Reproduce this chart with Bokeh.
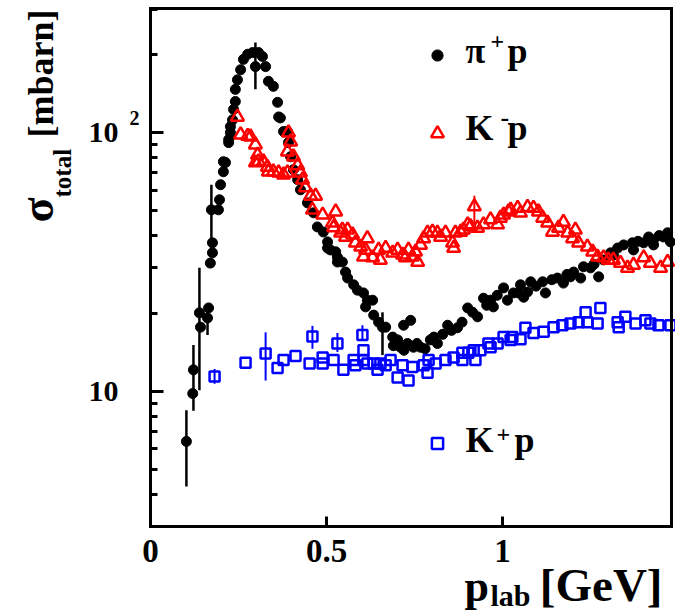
import math
from bokeh.plotting import figure
from bokeh.models import (FixedTicker, Label, Legend, LegendItem, LinearAxis,
                          LogAxis, Range1d)
from bokeh.core.properties import value
from bokeh.embed import file_html
from bokeh.resources import INLINE

FONT = "Liberation Serif"

# ---------------- data ----------------
# pi+ p total cross section [mbarn] vs p_lab [GeV]
pi_x = [0.102, 0.120, 0.122, 0.139, 0.142, 0.162, 0.165, 0.170, 0.176, 0.176,
        0.173, 0.193, 0.196, 0.199, 0.207, 0.207, 0.213, 0.222, 0.222, 0.227,
        0.227, 0.233, 0.236, 0.241, 0.241, 0.247, 0.256, 0.264, 0.276, 0.290,
        0.298, 0.307, 0.318, 0.327, 0.335, 0.349, 0.361, 0.364, 0.369, 0.378,
        0.389, 0.392, 0.398, 0.406, 0.418, 0.426, 0.446, 0.463, 0.474, 0.491,
        0.503, 0.503, 0.511, 0.526, 0.531, 0.531, 0.545, 0.554, 0.560, 0.577,
        0.588, 0.605, 0.611, 0.616, 0.631, 0.634, 0.648, 0.659, 0.668, 0.688,
        0.702, 0.710, 0.719, 0.730, 0.739, 0.747, 0.767, 0.795, 0.815, 0.844,
        0.872, 0.901, 0.929, 0.946, 0.966, 0.974, 1.003, 1.014, 1.031, 1.045,
        1.051, 1.060, 1.071, 1.080, 1.114, 1.122, 1.156, 1.173, 1.193, 1.202,
        1.222, 1.230, 1.250, 1.273, 1.287, 1.307, 1.327, 1.344, 1.369, 1.372,
        1.401, 1.429, 1.429, 1.457, 1.469, 1.477,
        0.690, 0.720, 0.757, 0.780, 0.805, 0.830, 0.855, 0.885, 0.915, 0.955,
        0.985, 1.095, 1.140, 1.183, 1.260, 1.315, 1.385, 1.415, 1.445]
pi_y = [6.40, 9.8, 12.1, 20.1, 17.7, 19.2, 21.0, 31.3, 34.3, 37.5,
        50.3, 50.3, 55.0, 62.9, 70.6, 77.2, 76.6, 91.5, 94.0, 100.0,
        105.5, 112, 123, 132, 147, 160, 175, 192, 201, 204,
        180, 204, 197, 180, 158, 151, 131, 115, 114, 101,
        101, 91.5, 80.7, 71.9, 65.8, 60.1, 53.5, 49.0, 43.2, 41.3,
        37.8, 35.8, 35.2, 34.6, 33.0, 31.6, 31.6, 28.9, 27.4, 25.8,
        24.6, 24.0, 21.2, 22.5, 22.5, 19.7, 18.5, 17.7, 17.7, 16.2,
        15.8, 14.8, 18.0, 15.3, 18.8, 14.8, 14.8, 15.8, 15.3, 18.0,
        17.6, 21.0, 19.4, 22.9, 22.5, 21.2, 25.1, 22.5, 24.0, 24.0,
        25.8, 23.1, 24.2, 26.5, 26.5, 24.0, 27.4, 26.2, 27.7, 28.9,
        27.4, 30.3, 30.0, 27.7, 32.2, 34.3, 35.8, 36.8, 37.5, 35.2,
        37.5, 38.5, 36.8, 39.5, 41.0, 37.8,
        15.0, 14.4, 15.3, 14.6, 16.2, 16.6, 17.2, 18.5, 20.2, 21.5,
        23.5, 25.5, 27.0, 28.3, 31.0, 33.6, 38.0, 39.5, 40.0]
pi_err_x = [0.102, 0.122, 0.139, 0.162, 0.173, 0.298, 0.659]
pi_err_lo = [4.28, 8.4, 10.1, 16.5, 35.0, 147, 13.8]
pi_err_hi = [8.44, 15.1, 30.0, 21.6, 62.9, 223, 20.2]

# K- p
km_x = [0.247, 0.256, 0.276, 0.284, 0.298, 0.304, 0.298, 0.307, 0.321, 0.332,
        0.335, 0.349, 0.364, 0.378, 0.389, 0.392, 0.398, 0.389, 0.406, 0.418,
        0.426, 0.432, 0.440, 0.455, 0.469, 0.460, 0.489, 0.526, 0.517, 0.545,
        0.560, 0.520, 0.540, 0.554, 0.574, 0.582, 0.597, 0.616, 0.611, 0.605,
        0.631, 0.653, 0.648, 0.668, 0.688, 0.702, 0.716, 0.724, 0.733, 0.744,
        0.759, 0.753, 0.767, 0.776, 0.787, 0.801, 0.815, 0.824, 0.838, 0.858,
        0.861, 0.866, 0.881, 0.889, 0.901, 0.909, 0.920, 0.929, 0.946, 0.966,
        0.986, 0.994, 1.003, 1.017, 1.023, 1.043, 1.051, 1.071, 1.088, 1.102,
        1.114, 1.128, 1.142, 1.159, 1.173, 1.185, 1.199, 1.207, 1.216, 1.241,
        1.256, 1.270, 1.287, 1.301, 1.315, 1.335, 1.355, 1.372, 1.401, 1.420,
        1.449, 1.469]
km_y = [115, 98.2, 97.0, 96.5, 89.8, 82.0, 76.6, 77.2, 77.2, 73.6,
        70.6, 70.6, 70.0, 68.8, 70.0, 100, 92.3, 84.4, 80.7, 74.7,
        70.0, 65.8, 61.4, 56.9, 56.9, 50.3, 48.1, 49.5, 44.8, 42.1,
        42.1, 43.0, 41.0, 39.5, 40.3, 37.5, 36.2, 39.0, 35.2, 33.1,
        32.9, 32.2, 35.2, 35.8, 34.3, 35.2, 33.7, 32.9, 35.2, 33.1,
        31.6, 34.6, 36.8, 39.0, 41.0, 41.3, 41.0, 39.5, 41.0, 37.5,
        35.8, 41.0, 41.3, 42.1, 44.1, 43.4, 51.8, 42.8, 44.1, 46.1,
        44.1, 46.8, 48.1, 49.5, 50.3, 51.1, 49.0, 51.5, 51.1, 49.5,
        46.8, 44.8, 41.3, 42.8, 45.1, 41.0, 39.0, 42.1, 37.5, 36.2,
        34.6, 33.1, 32.9, 32.2, 32.2, 31.3, 30.0, 30.8, 32.9, 31.3,
        30.0, 31.6]
km_err_x = [0.920]
km_err_lo = [41.0]
km_err_hi = [57.0]

# K+ p
kp_x = [0.182, 0.270, 0.327, 0.361, 0.378, 0.412, 0.452, 0.460, 0.489, 0.489,
        0.520, 0.531, 0.548, 0.577, 0.582, 0.602, 0.605, 0.605, 0.616, 0.634,
        0.645, 0.653, 0.668, 0.682, 0.702, 0.716, 0.733, 0.744, 0.776, 0.787,
        0.790, 0.810, 0.838, 0.861, 0.886, 0.886, 0.903, 0.918, 0.923, 0.937,
        0.960, 0.966, 0.986, 1.003, 1.023, 1.028, 1.051, 1.065, 1.088, 1.117,
        1.145, 1.170, 1.193, 1.216, 1.236, 1.241, 1.270, 1.278, 1.327, 1.330,
        1.349, 1.378, 1.406, 1.420, 1.443, 1.477]
kp_y = [11.4, 12.9, 14.0, 12.3, 13.2, 13.7, 12.8, 16.3, 13.5, 12.8,
        13.2, 15.3, 12.1, 13.2, 12.6, 16.5, 14.4, 13.2, 12.8, 12.8,
        12.1, 12.8, 12.6, 13.2, 11.3, 12.6, 11.0, 12.4, 12.6, 11.8,
        13.2, 12.8, 13.2, 13.5, 14.1, 13.2, 14.1, 14.4, 13.2, 14.4,
        15.3, 14.8, 15.3, 16.2, 15.8, 16.2, 15.9, 17.6, 16.8, 17.0,
        17.7, 18.0, 18.3, 18.5, 20.2, 18.5, 18.3, 21.0, 18.5, 17.7,
        19.4, 18.3, 18.8, 18.3, 18.0, 18.0]
kp_err_x = [0.182, 0.327, 0.460, 0.531, 0.602]
kp_err_lo = [10.7, 11.0, 14.6, 14.2, 15.8]
kp_err_hi = [12.2, 16.9, 17.9, 16.8, 18.0]

x_ticks = [0, 0.5, 1]
x_tick_labels = {0: "0", 0.5: "0.5", 1: "1"}
y_tick_labels = {10: "10", 100: "10"}
X0, X1 = 0.0, 1.48       # plotted p_lab range
Y0, Y1 = 3.0, 302.0      # plotted cross-section range

# ---------------- layout (pixels) ----------------
W, H = 675, 614
BOX_L, BOX_R, BOX_T, BOX_B = 150, 671, 8, 526
BASE_FIX = 0.39   # em shift between requested and rendered text baseline

# The drawing frame fills the whole canvas; the visible plot box is drawn
# with fixed-location axes, so that texts outside the box are not clipped.
kx = (BOX_R - BOX_L) / (X1 - X0)
x_start = X0 - BOX_L / kx
x_end = X1 + (W - BOX_R) / kx
ky = (BOX_B - BOX_T) / (math.log10(Y1) - math.log10(Y0))
y_start = 10 ** (math.log10(Y0) - (H - BOX_B) / ky)
y_end = 10 ** (math.log10(Y1) + BOX_T / ky)

p = figure(width=W, height=H, x_range=Range1d(x_start, x_end),
           y_range=Range1d(y_start, y_end), y_axis_type="log",
           output_backend="svg", toolbar_location=None,
           min_border=0, min_border_left=0, min_border_right=0,
           min_border_top=0, min_border_bottom=0)
p.title.visible = False
p.background_fill_color = "white"
p.border_fill_color = "white"
p.outline_line_color = None
p.xgrid.grid_line_color = None
p.ygrid.grid_line_color = None

xa = p.xaxis[0]
xa.fixed_location = Y0
xa.bounds = (X0, X1)
xa.ticker = FixedTicker(ticks=x_ticks)
xa.major_label_overrides = x_tick_labels
xa.axis_line_width = 3
xa.axis_line_cap = "square"
xa.major_tick_in = 10
xa.major_tick_out = 0
xa.major_tick_line_width = 3
xa.minor_tick_line_color = None
xa.major_label_standoff = 13
xa.major_label_text_font = FONT
xa.major_label_text_font_style = "bold"
xa.major_label_text_font_size = "33px"
xa.major_label_text_color = "black"

ya = p.yaxis[0]
ya.fixed_location = X0
ya.bounds = (Y0, Y1)
ya.major_label_overrides = y_tick_labels
ya.axis_line_width = 3
ya.axis_line_cap = "square"
ya.major_tick_in = 13
ya.major_tick_out = 0
ya.major_tick_line_width = 3
ya.minor_tick_in = 7
ya.minor_tick_out = 0
ya.minor_tick_line_width = 3
ya.major_label_standoff = 32
ya.major_label_text_font = FONT
ya.major_label_text_font_style = "bold"
ya.major_label_text_font_size = "30px"
ya.major_label_text_color = "black"

top_ax = LinearAxis(fixed_location=Y1, bounds=(X0, X1), ticker=FixedTicker(ticks=[]),
                    axis_line_width=3, axis_line_cap="square",
                    major_tick_line_color=None, minor_tick_line_color=None,
                    major_label_text_font_size="0px")
p.add_layout(top_ax, "above")
right_ax = LogAxis(fixed_location=X1, bounds=(Y0, Y1), ticker=FixedTicker(ticks=[]),
                   axis_line_width=3, axis_line_cap="square",
                   major_tick_line_color=None, minor_tick_line_color=None,
                   major_label_text_font_size="0px")
p.add_layout(right_ax, "right")

# error bars
p.segment(pi_err_x, pi_err_lo, pi_err_x, pi_err_hi, line_color="black", line_width=2.5)
p.segment(km_err_x, km_err_lo, km_err_x, km_err_hi, line_color="red", line_width=2)
p.segment(kp_err_x, kp_err_lo, kp_err_x, kp_err_hi, line_color="blue", line_width=2)

r_pi = p.scatter(pi_x, pi_y, marker="circle", size=10, fill_color="black",
                 line_color="black", line_width=1)
r_km = p.scatter(km_x, km_y, marker="triangle", size=13, fill_color=None,
                 line_color="red", line_width=2.5)
r_kp = p.scatter(kp_x, kp_y, marker="square", size=10, fill_color=None,
                 line_color="blue", line_width=2.5)

# legend symbols (screen px, from the bottom-left corner)
for r, cx, cy, g in [(r_pi, 437, H - 55, 28), (r_km, 437, H - 133, 32),
                     (r_kp, 437, H - 443, 28)]:
    leg = Legend(items=[LegendItem(label=value(" "), renderers=[r])],
                 location=(cx - g / 2, cy - g / 2), glyph_width=g, glyph_height=g,
                 padding=0, margin=0, spacing=0, label_standoff=0,
                 label_width=1, label_height=1, label_text_font_size="1px",
                 border_line_color=None, background_fill_alpha=0)
    p.add_layout(leg)


def lab(x, y, text, size, align="left", rotated=False):
    # x, y: wanted baseline point, screen px from the left / top of the picture
    fix = BASE_FIX * size
    if rotated:
        sx, sy, angle = x - fix, H - y, math.pi / 2
    else:
        sx, sy, angle = x, H - y + fix, 0.0
    p.add_layout(Label(x=sx, y=sy, x_units="screen", y_units="screen", text=text,
                       text_font=FONT, text_font_style="bold",
                       text_font_size=f"{size}px", text_align=align,
                       text_baseline="alphabetic", angle=angle, text_color="black"))


# legend texts
lab(465, 65, "π", 36)
lab(490, 50, "+", 24)
lab(507, 65, "p", 36)
lab(465, 142, "K", 36)
lab(500, 127, "-", 26)
lab(507, 142, "p", 36)
lab(465, 454, "K", 36)
lab(496, 443, "+", 24)
lab(514, 454, "p", 36)

# superscript of the 10^2 tick label
lab(129, 125, "2", 20)

# axis titles
lab(464, 603, "p", 44)
lab(490, 607, "lab", 30)
lab(662, 603, "[GeV]", 47, align="right")

lab(55, 222, "σ", 46, rotated=True)
lab(72, 197, "total", 25, rotated=True)
lab(55, 137, "[mbarn]", 36, rotated=True)

open("out.html", "w").write(file_html(p, INLINE))
